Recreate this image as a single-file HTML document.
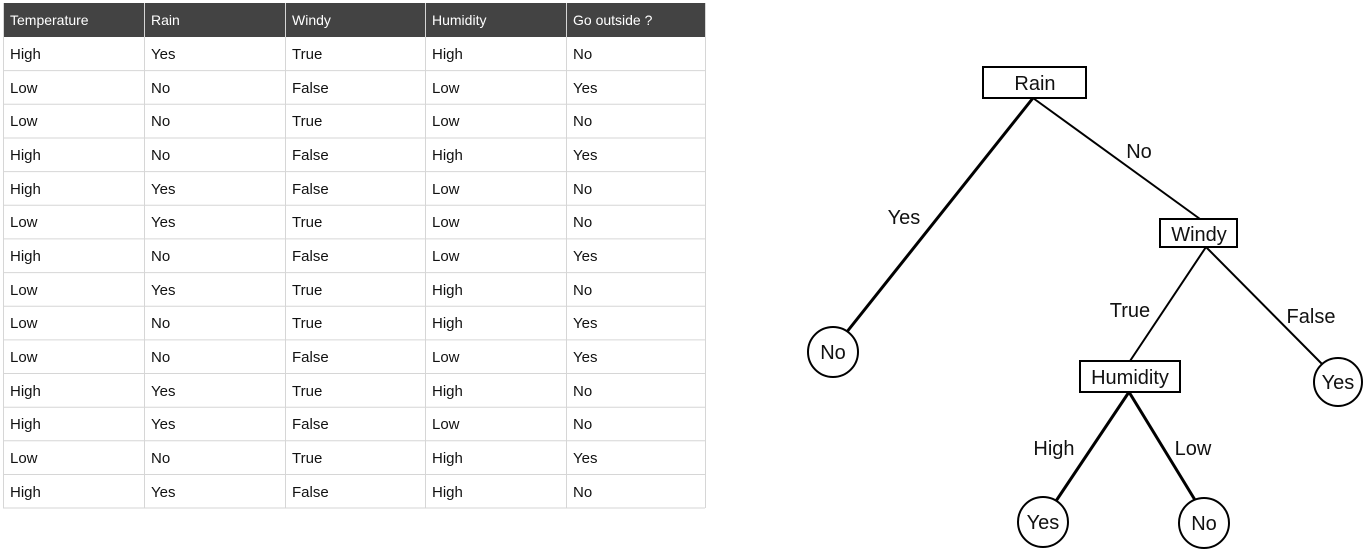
<!DOCTYPE html>
<html><head><meta charset="utf-8"><style>
html,body{margin:0;padding:0;background:#fff;width:1368px;height:558px;overflow:hidden}
svg{display:block}
text{font-family:"Liberation Sans",sans-serif}
</style></head><body>
<svg width="1368" height="558" viewBox="0 0 1368 558">
<rect x="3" y="3" width="702" height="34" fill="#434343"/>
<g fill="#fff" font-size="14">
<text x="10" y="25">Temperature</text><text x="151" y="25">Rain</text><text x="292" y="25">Windy</text><text x="432" y="25">Humidity</text><text x="573" y="25">Go outside ?</text>
</g>
<g stroke="#d6d6d6" stroke-width="1">
<line x1="3" y1="70.6" x2="705" y2="70.6"/><line x1="3" y1="104.3" x2="705" y2="104.3"/><line x1="3" y1="138" x2="705" y2="138"/><line x1="3" y1="171.6" x2="705" y2="171.6"/><line x1="3" y1="205.3" x2="705" y2="205.3"/><line x1="3" y1="238.9" x2="705" y2="238.9"/><line x1="3" y1="272.6" x2="705" y2="272.6"/><line x1="3" y1="306.2" x2="705" y2="306.2"/><line x1="3" y1="339.9" x2="705" y2="339.9"/><line x1="3" y1="373.5" x2="705" y2="373.5"/><line x1="3" y1="407.2" x2="705" y2="407.2"/><line x1="3" y1="440.8" x2="705" y2="440.8"/><line x1="3" y1="474.5" x2="705" y2="474.5"/><line x1="3" y1="508" x2="705" y2="508"/>
<line x1="3.5" y1="3" x2="3.5" y2="508"/><line x1="144.5" y1="3" x2="144.5" y2="508"/><line x1="285.5" y1="3" x2="285.5" y2="508"/><line x1="425.5" y1="3" x2="425.5" y2="508"/><line x1="566.5" y1="3" x2="566.5" y2="508"/><line x1="705.5" y1="3" x2="705.5" y2="508"/>
</g>
<g fill="#111" font-size="15">
<text y="59"><tspan x="10">High</tspan><tspan x="151">Yes</tspan><tspan x="292">True</tspan><tspan x="432">High</tspan><tspan x="573">No</tspan></text>
<text y="93"><tspan x="10">Low</tspan><tspan x="151">No</tspan><tspan x="292">False</tspan><tspan x="432">Low</tspan><tspan x="573">Yes</tspan></text>
<text y="126"><tspan x="10">Low</tspan><tspan x="151">No</tspan><tspan x="292">True</tspan><tspan x="432">Low</tspan><tspan x="573">No</tspan></text>
<text y="160"><tspan x="10">High</tspan><tspan x="151">No</tspan><tspan x="292">False</tspan><tspan x="432">High</tspan><tspan x="573">Yes</tspan></text>
<text y="194"><tspan x="10">High</tspan><tspan x="151">Yes</tspan><tspan x="292">False</tspan><tspan x="432">Low</tspan><tspan x="573">No</tspan></text>
<text y="227"><tspan x="10">Low</tspan><tspan x="151">Yes</tspan><tspan x="292">True</tspan><tspan x="432">Low</tspan><tspan x="573">No</tspan></text>
<text y="261"><tspan x="10">High</tspan><tspan x="151">No</tspan><tspan x="292">False</tspan><tspan x="432">Low</tspan><tspan x="573">Yes</tspan></text>
<text y="295"><tspan x="10">Low</tspan><tspan x="151">Yes</tspan><tspan x="292">True</tspan><tspan x="432">High</tspan><tspan x="573">No</tspan></text>
<text y="328"><tspan x="10">Low</tspan><tspan x="151">No</tspan><tspan x="292">True</tspan><tspan x="432">High</tspan><tspan x="573">Yes</tspan></text>
<text y="362"><tspan x="10">Low</tspan><tspan x="151">No</tspan><tspan x="292">False</tspan><tspan x="432">Low</tspan><tspan x="573">Yes</tspan></text>
<text y="396"><tspan x="10">High</tspan><tspan x="151">Yes</tspan><tspan x="292">True</tspan><tspan x="432">High</tspan><tspan x="573">No</tspan></text>
<text y="429"><tspan x="10">High</tspan><tspan x="151">Yes</tspan><tspan x="292">False</tspan><tspan x="432">Low</tspan><tspan x="573">No</tspan></text>
<text y="463"><tspan x="10">Low</tspan><tspan x="151">No</tspan><tspan x="292">True</tspan><tspan x="432">High</tspan><tspan x="573">Yes</tspan></text>
<text y="497"><tspan x="10">High</tspan><tspan x="151">Yes</tspan><tspan x="292">False</tspan><tspan x="432">High</tspan><tspan x="573">No</tspan></text>
</g>
<g stroke="#000" fill="none">
<line x1="1033" y1="98" x2="846" y2="333" stroke-width="3"/>
<line x1="1033" y1="98" x2="1200" y2="219" stroke-width="2"/>
<line x1="1206" y1="247" x2="1130" y2="361" stroke-width="2"/>
<line x1="1206" y1="247" x2="1322" y2="364" stroke-width="2"/>
<line x1="1129" y1="392" x2="1056" y2="501" stroke-width="3"/>
<line x1="1129" y1="392" x2="1195" y2="500" stroke-width="3"/>
<rect x="983" y="67" width="103" height="31" fill="#fff" stroke-width="2"/>
<rect x="1160" y="219" width="77" height="28" fill="#fff" stroke-width="2"/>
<rect x="1080" y="361" width="100" height="31" fill="#fff" stroke-width="2"/>
<circle cx="833" cy="352" r="25" fill="#fff" stroke-width="2"/>
<circle cx="1338" cy="382" r="24" fill="#fff" stroke-width="2"/>
<circle cx="1043" cy="522" r="25" fill="#fff" stroke-width="2"/>
<circle cx="1204" cy="523" r="25" fill="#fff" stroke-width="2"/>
</g>
<g fill="#111" font-size="20" text-anchor="middle">
<text x="1035" y="90">Rain</text>
<text x="1199" y="241">Windy</text>
<text x="1130" y="384">Humidity</text>
<text x="833" y="359">No</text>
<text x="1338" y="389">Yes</text>
<text x="1043" y="529">Yes</text>
<text x="1204" y="530">No</text>
<text x="1139" y="158">No</text>
<text x="904" y="224">Yes</text>
<text x="1130" y="317">True</text>
<text x="1311" y="323">False</text>
<text x="1054" y="455">High</text>
<text x="1193" y="455">Low</text>
</g>
</svg>
</body></html>
